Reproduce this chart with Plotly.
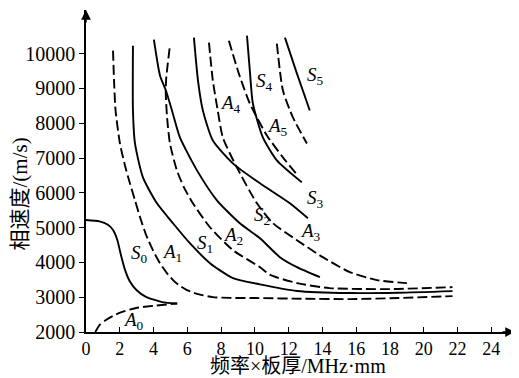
import plotly.graph_objects as go

# ---- data ----
S0_x = [0, 0.8, 1.3, 1.6, 1.85, 2.05, 2.3, 2.6, 3.0, 3.55, 4.5, 5.4]
S0_y = [5220, 5180, 5080, 4930, 4650, 4250, 3800, 3450, 3200, 3010, 2860, 2820]

A0_x = [0.55, 0.8, 1.18, 1.95, 2.96, 3.96, 5.4]
A0_y = [2000, 2200, 2345, 2545, 2690, 2750, 2820]

A1_x = [1.6, 1.66, 1.75, 2.01, 2.3, 2.6, 2.9, 3.2, 3.55, 3.96, 4.35, 4.79, 5.3, 5.98, 6.7, 7.51, 8.5, 10.06, 13.0, 15.6, 18.5, 21.7]
A1_y = [10085, 9225, 8365, 7418, 6800, 6272, 5785, 5297, 4800, 4351, 4000, 3691, 3420, 3204, 3080, 3003, 2980, 2975, 2955, 2946, 2975, 3032]

S1_x = [2.78, 2.78, 2.9, 3.37, 4.2, 5.15, 6.15, 7.34, 8.7, 10.3, 12.5, 15.6, 18.5, 21.7]
S1_y = [10228, 8365, 7420, 6444, 5699, 5125, 4552, 3978, 3548, 3370, 3180, 3120, 3130, 3176]

A2_x = [4.95, 4.75, 4.72, 4.8, 4.97, 5.38, 5.8, 6.33, 7.34, 8.7, 10.3, 10.9, 12.5, 14.4, 18.0, 21.7]
A2_y = [10150, 9300, 8900, 8165, 7418, 6645, 6157, 5699, 5010, 4351, 3864, 3640, 3405, 3261, 3233, 3290]

S2_x = [4.02, 4.38, 4.73, 5.09, 5.56, 6.57, 7.75, 9.11, 10.3, 11.48, 12.49, 13.85]
S2_y = [10400, 9370, 8938, 8365, 7590, 6645, 5785, 5125, 4695, 4150, 3864, 3577]

S3_x = [6.39, 6.63, 6.92, 7.51, 8.76, 10.3, 12.07, 13.14]
S3_y = [10458, 9225, 8365, 7504, 6816, 6272, 5698, 5268]

A3_x = [7.28, 7.51, 7.8, 8.1, 8.93, 10.12, 11.07, 12.49, 14.02, 15.62, 17.22, 19.0]
A3_y = [10314, 9225, 8365, 7590, 6730, 5699, 5125, 4638, 4150, 3720, 3491, 3405]

A4_x = [8.46, 9.05, 9.7, 10.71, 11.66, 12.43]
A4_y = [10371, 9425, 8565, 7648, 7017, 6559]

S4_x = [9.53, 9.7, 9.88, 10.47, 11.3, 12.78]
S4_y = [10515, 9510, 8565, 7590, 6931, 6300]

A5_x = [11.3, 11.66, 12.25, 13.08]
A5_y = [10285, 8938, 8165, 7418]

S5_x = [11.78, 12.49, 13.25]
S5_y = [10458, 9425, 8365]

x_ticks = list(range(0, 25, 2))
y_ticks = list(range(2000, 10001, 1000))
y_tick_text = [str(v) for v in y_ticks]

# label positions (letter, subscript, x, y)
labels = [("S", "0", 3.14, 4236), ("A", "1", 5.09, 4265), ("S", "1", 7.04, 4523),
          ("A", "2", 8.7, 4752), ("A", "0", 2.84, 2315), ("S", "2", 10.41, 5326),
          ("A", "3", 13.31, 4867), ("S", "3", 13.61, 5813), ("A", "4", 8.58, 8565),
          ("S", "4", 10.59, 9196), ("A", "5", 11.36, 7877), ("S", "5", 13.61, 9368)]

curves = [(S0_x, S0_y, "solid"), (A0_x, A0_y, "dash"), (A1_x, A1_y, "dash"),
          (S1_x, S1_y, "solid"), (A2_x, A2_y, "dash"), (S2_x, S2_y, "solid"),
          (S3_x, S3_y, "solid"), (A3_x, A3_y, "dash"), (A4_x, A4_y, "dash"),
          (S4_x, S4_y, "solid"), (A5_x, A5_y, "dash"), (S5_x, S5_y, "solid")]

fig = go.Figure()
for xs, ys, style in curves:
    fig.add_trace(go.Scatter(
        x=xs, y=ys, mode="lines",
        line=dict(color="black", width=1.9, shape="spline", smoothing=0.6,
                  dash="10px,4px" if style == "dash" else "solid"),
        showlegend=False, hoverinfo="skip"))

serif = "Liberation Serif, Noto Sans CJK SC, serif"
for letter, sub, lx, ly in labels:
    fig.add_annotation(x=lx, y=ly, text=f"<i>{letter}</i><sub>{sub}</sub>",
                       showarrow=False, xanchor="center", yanchor="middle",
                       font=dict(family=serif, size=19, color="black"))

# axis arrows
fig.add_annotation(x=1.0, y=0, xref="paper", yref="paper", ax=-14, ay=0,
                   axref="pixel", ayref="pixel", text="", showarrow=True,
                   arrowhead=2, arrowsize=1.3, arrowwidth=1.5, arrowcolor="black")
fig.add_annotation(x=0, y=1.0, xref="paper", yref="paper", ax=0, ay=14,
                   axref="pixel", ayref="pixel", text="", showarrow=True,
                   arrowhead=2, arrowsize=1.3, arrowwidth=1.5, arrowcolor="black")

# axis titles
fig.add_annotation(x=0.494, y=-0.107, xref="paper", yref="paper",
                   xanchor="center", yanchor="middle",
                   text="频率×板厚/MHz·mm", showarrow=False,
                   font=dict(family=serif, size=20, color="black"))
fig.add_annotation(x=-0.154, y=0.43, xref="paper", yref="paper",
                   xanchor="center", yanchor="middle",
                   text="相速度/(m/s)", showarrow=False, textangle=-90,
                   font=dict(family=serif, size=21, color="black"))

# the page body has an 8px margin, so the figure is offset by (8, 8)
fig.update_layout(
    width=511, height=370,
    margin=dict(l=78, r=4, t=2, b=46),
    paper_bgcolor="white", plot_bgcolor="white",
    xaxis=dict(range=[0, 25.4], tickvals=x_ticks, ticks="inside", ticklen=5,
               tickwidth=1.2, tickcolor="black", showline=True, linecolor="black",
               linewidth=1.5, showgrid=False, zeroline=False, automargin=False,
               tickfont=dict(family=serif, size=18, color="black")),
    yaxis=dict(range=[2000, 11253], tickvals=y_ticks, ticktext=y_tick_text,
               ticks="outside", ticklen=5,
               tickwidth=1.2, tickcolor="black", showline=True, linecolor="black",
               linewidth=1.5, showgrid=False, zeroline=False, automargin=False,
               tickfont=dict(family=serif, size=20, color="black")),
)

fig.write_html("out.html")
